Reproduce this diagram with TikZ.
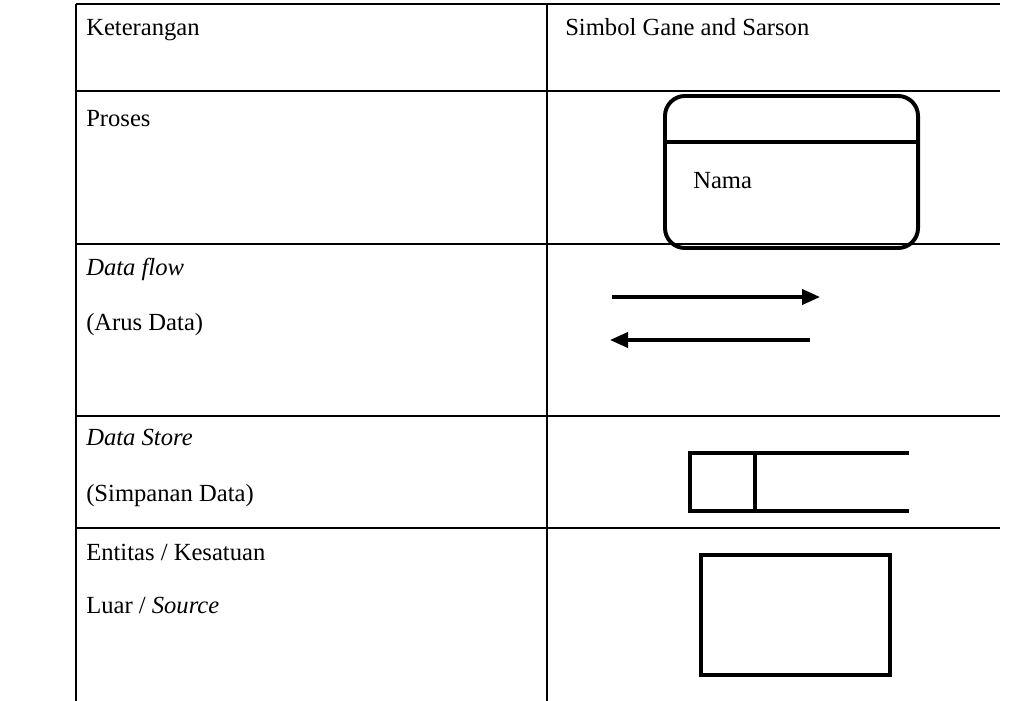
\documentclass[tikz,border=0pt]{standalone}
\usepackage{fontspec}
\setmainfont{Liberation Serif}
\usetikzlibrary{arrows.meta,positioning}

\begin{document}
\begin{tikzpicture}[
    x=0.025cm, y=-0.025cm,
    rule/.style={line width=1.8pt},
    symbol/.style={draw, line width=2.8pt},
    flow/.style={line width=2.4pt, -{Triangle[length=0.45cm, width=0.38cm]}},
    cell/.style={anchor=base west, inner sep=0pt, font=\fontsize{17.5}{21}\selectfont}
  ]
  \useasboundingbox (0,0) rectangle (1036,701);

  % Table rules
  \foreach \y in {4,91,244,416,528}
    \draw[rule] (76,\y) -- (1000,\y);
  \draw[rule] (76,4) -- (76,701);
  \draw[rule] (547,4) -- (547,701);

  % Header
  \node[cell] (ket) at (86,36) {Keterangan};
  \node[cell] (simbol) at (565,36) {Simbol Gane and Sarson};

  % Left column
  \node[cell] (proses_lbl) at (86,127) {Proses};
  \node[cell] (flow_lbl) at (86,276) {\itshape Data flow};
  \node[cell] (arus_lbl) at (86,330) {(Arus Data)};
  \node[cell] (store_lbl) at (86,445) {\itshape Data Store};
  \node[cell] (simpan_lbl) at (86,501) {(Simpanan Data)};
  \node[cell] (entitas_lbl) at (86,560) {Entitas / Kesatuan};
  \node[cell] (luar_lbl) at (86,613) {Luar / \textit{Source}};

  % Proses
  \node[symbol, rounded corners=0.5cm, minimum width=6.325cm, minimum height=3.8cm] (proses) at (791.5,172) {};
  \draw[line width=2.8pt] (proses.west |- 0,142) -- (proses.east |- 0,142);
  \node[cell] (nama) at (693,189) {Nama};

  % Data flow
  \coordinate (fa) at (612,297);
  \coordinate (fb) at (820,297);
  \coordinate (fc) at (810,340);
  \coordinate (fd) at (610,340);
  \draw[flow] (fa) -- (fb);
  \draw[flow] (fc) -- (fd);

  % Data store
  \draw[line width=2.2pt] (909,453) -- (690,453) -- (690,511) -- (909,511);
  \draw[line width=2.2pt] (755,453) -- (755,511);

  % Entitas
  \node[symbol, minimum width=4.725cm, minimum height=3cm] (entitas) at (795.5,615) {};

\end{tikzpicture}
\end{document}
